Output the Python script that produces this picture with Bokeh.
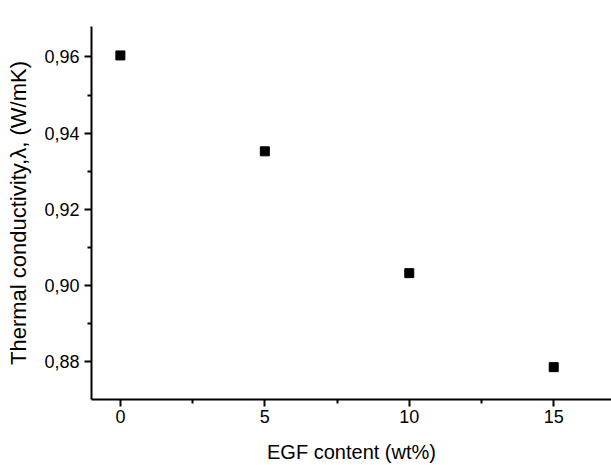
from bokeh.plotting import figure
from bokeh.models import FixedTicker, CustomJSTickFormatter, Range1d
from bokeh.embed import file_html
from bokeh.resources import INLINE

# data
egf_content = [0, 5, 10, 15]
conductivity = [0.9604, 0.9352, 0.9032, 0.8785]

x_ticks = [0, 5, 10, 15]
x_minor = [2.5, 7.5, 12.5]
y_ticks = [0.88, 0.90, 0.92, 0.94, 0.96]
y_minor = [0.89, 0.91, 0.93, 0.95]

x_label = "EGF content (wt%)"
y_label = "Thermal conductivity,\u03bb, (W/mK)"

FONT = "Liberation Sans"

p = figure(width=611, height=465, output_backend="svg", toolbar_location=None,
           x_range=Range1d(-1, 17), y_range=Range1d(0.87, 0.968),
           min_border_left=91, min_border_right=0, min_border_top=26, min_border_bottom=63)
p.outline_line_color = None
p.grid.visible = False
p.background_fill_color = "white"
p.border_fill_color = "white"

p.scatter(egf_content, conductivity, marker="square", size=9, color="black")

for ax, ticks, minor in ((p.xaxis[0], x_ticks, x_minor), (p.yaxis[0], y_ticks, y_minor)):
    ax.ticker = FixedTicker(ticks=ticks, minor_ticks=minor)
    ax.axis_line_width = 2
    ax.axis_line_color = "black"
    ax.major_tick_line_width = 2
    ax.minor_tick_line_width = 2
    ax.major_tick_line_color = "black"
    ax.minor_tick_line_color = "black"
    ax.major_tick_out = 7
    ax.major_tick_in = 0
    ax.minor_tick_out = 4
    ax.minor_tick_in = 0
    ax.major_label_text_font = FONT
    ax.major_label_text_font_size = "18px"
    ax.major_label_text_color = "black"
    ax.axis_label_text_font = FONT
    ax.axis_label_text_font_style = "normal"
    ax.axis_label_text_color = "black"

p.xaxis[0].major_label_standoff = 3
p.yaxis[0].major_label_standoff = 5
p.yaxis[0].formatter = CustomJSTickFormatter(code="return tick.toFixed(2).replace('.', ',');")

p.xaxis[0].axis_label = x_label
p.yaxis[0].axis_label = y_label
p.xaxis[0].axis_label_text_font_size = "20px"
p.yaxis[0].axis_label_text_font_size = "22px"
p.xaxis[0].axis_label_standoff = 15
p.yaxis[0].axis_label_standoff = 10

open("out.html", "w").write(file_html(p, INLINE))
